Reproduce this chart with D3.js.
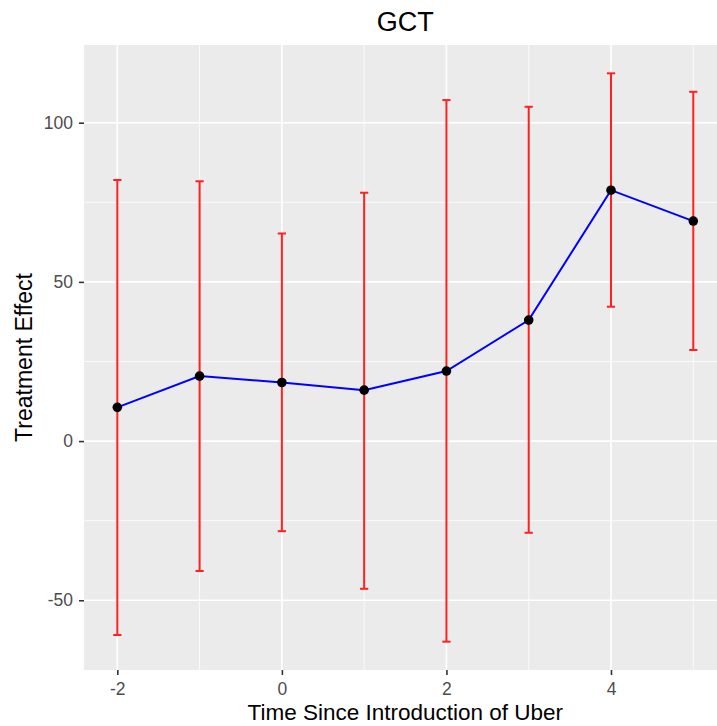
<!DOCTYPE html>
<html><head><meta charset="utf-8">
<script src="https://cdn.jsdelivr.net/npm/d3@7"></script>
<style>body{margin:0;background:#fff}svg{display:block;font-family:"Liberation Sans",Arial,sans-serif}</style>
</head><body>
<svg id="c" width="717" height="726"></svg>
<script>
const times = [-2, -1, 0, 1, 2, 3, 4, 5];
const effect = [10.6, 20.4, 18.4, 16.0, 22.0, 38.0, 78.8, 69.1];
const upper = [82.0, 81.6, 65.2, 78.0, 107.1, 105.0, 115.5, 109.7];
const lower = [-60.9, -40.8, -28.3, -46.4, -63.0, -28.8, 42.2, 28.6];
const xTicks = [-2, 0, 2, 4];
const xMinor = [-1, 1, 3, 5];
const yTicks = [-50, 0, 50, 100];
const yMinor = [-25, 25, 75];
const title = "GCT";
const xTitle = "Time Since Introduction of Uber";
const yTitle = "Treatment Effect";

const svg = d3.select("#c");
const L = 84, R = 726.6, T = 45, B = 670;
const x = d3.scaleLinear().domain([-2.405, 5.405]).range([L, R]);
const y = d3.scaleLinear().domain([-71.9, 124.4]).range([B, T]);

svg.append("rect").attr("x", L).attr("y", T).attr("width", R - L).attr("height", B - T).attr("fill", "#EBEBEB");
const g = svg.append("g");
g.selectAll(".xm").data(xMinor).join("line").attr("x1", d => x(d)).attr("x2", d => x(d)).attr("y1", T).attr("y2", B).attr("stroke", "#fff").attr("stroke-width", 0.8);
g.selectAll(".ym").data(yMinor).join("line").attr("y1", d => y(d)).attr("y2", d => y(d)).attr("x1", L).attr("x2", R).attr("stroke", "#fff").attr("stroke-width", 0.8);
g.selectAll(".xM").data(xTicks).join("line").attr("x1", d => x(d)).attr("x2", d => x(d)).attr("y1", T).attr("y2", B).attr("stroke", "#fff").attr("stroke-width", 1.6);
g.selectAll(".yM").data(yTicks).join("line").attr("y1", d => y(d)).attr("y2", d => y(d)).attr("x1", L).attr("x2", R).attr("stroke", "#fff").attr("stroke-width", 1.6);

// axes
const xa = svg.append("g").attr("transform", `translate(0,${B})`)
  .call(d3.axisBottom(x).tickValues(xTicks).tickSize(5).tickPadding(8).tickFormat(d => d < 0 ? "-" + Math.abs(d) : d));
const ya = svg.append("g").attr("transform", `translate(${L},0)`)
  .call(d3.axisLeft(y).tickValues(yTicks).tickSize(5).tickPadding(6).tickFormat(d => d < 0 ? "-" + Math.abs(d) : d));
[xa, ya].forEach(a => {
  a.select(".domain").remove();
  a.selectAll(".tick line").attr("stroke", "#333").attr("stroke-width", 1.6);
  a.selectAll(".tick text").attr("fill", "#4D4D4D").style("font-size", "17.5px").style("font-family", "Liberation Sans, Arial, sans-serif");
});

// error bars
const eb = svg.append("g").attr("stroke", "#FF2020").attr("stroke-width", 2).attr("fill", "none");
const capW = 0.05;
times.forEach((t, i) => {
  eb.append("line").attr("x1", x(t)).attr("x2", x(t)).attr("y1", y(upper[i])).attr("y2", y(lower[i]));
  eb.append("line").attr("x1", x(t - capW)).attr("x2", x(t + capW)).attr("y1", y(upper[i])).attr("y2", y(upper[i]));
  eb.append("line").attr("x1", x(t - capW)).attr("x2", x(t + capW)).attr("y1", y(lower[i])).attr("y2", y(lower[i]));
});

// line
const line = d3.line().x((d, i) => x(times[i])).y(d => y(d));
svg.append("path").datum(effect).attr("d", line).attr("fill", "none").attr("stroke", "#0000FF").attr("stroke-width", 2);
svg.selectAll(".pt").data(effect).join("circle").attr("cx", (d, i) => x(times[i])).attr("cy", d => y(d)).attr("r", 4.8).attr("fill", "#000");

// titles
svg.append("text").attr("x", (L + R) / 2).attr("y", 31).attr("text-anchor", "middle").style("font-size", "27px").attr("fill", "#000").text(title);
svg.append("text").attr("x", (L + R) / 2).attr("y", 720).attr("text-anchor", "middle").style("font-size", "22.5px").attr("fill", "#000").text(xTitle);
svg.append("text").attr("transform", `translate(32,${(T + B) / 2}) rotate(-90)`).attr("text-anchor", "middle").style("font-size", "23px").attr("fill", "#000").text(yTitle);
</script>
</body></html>
